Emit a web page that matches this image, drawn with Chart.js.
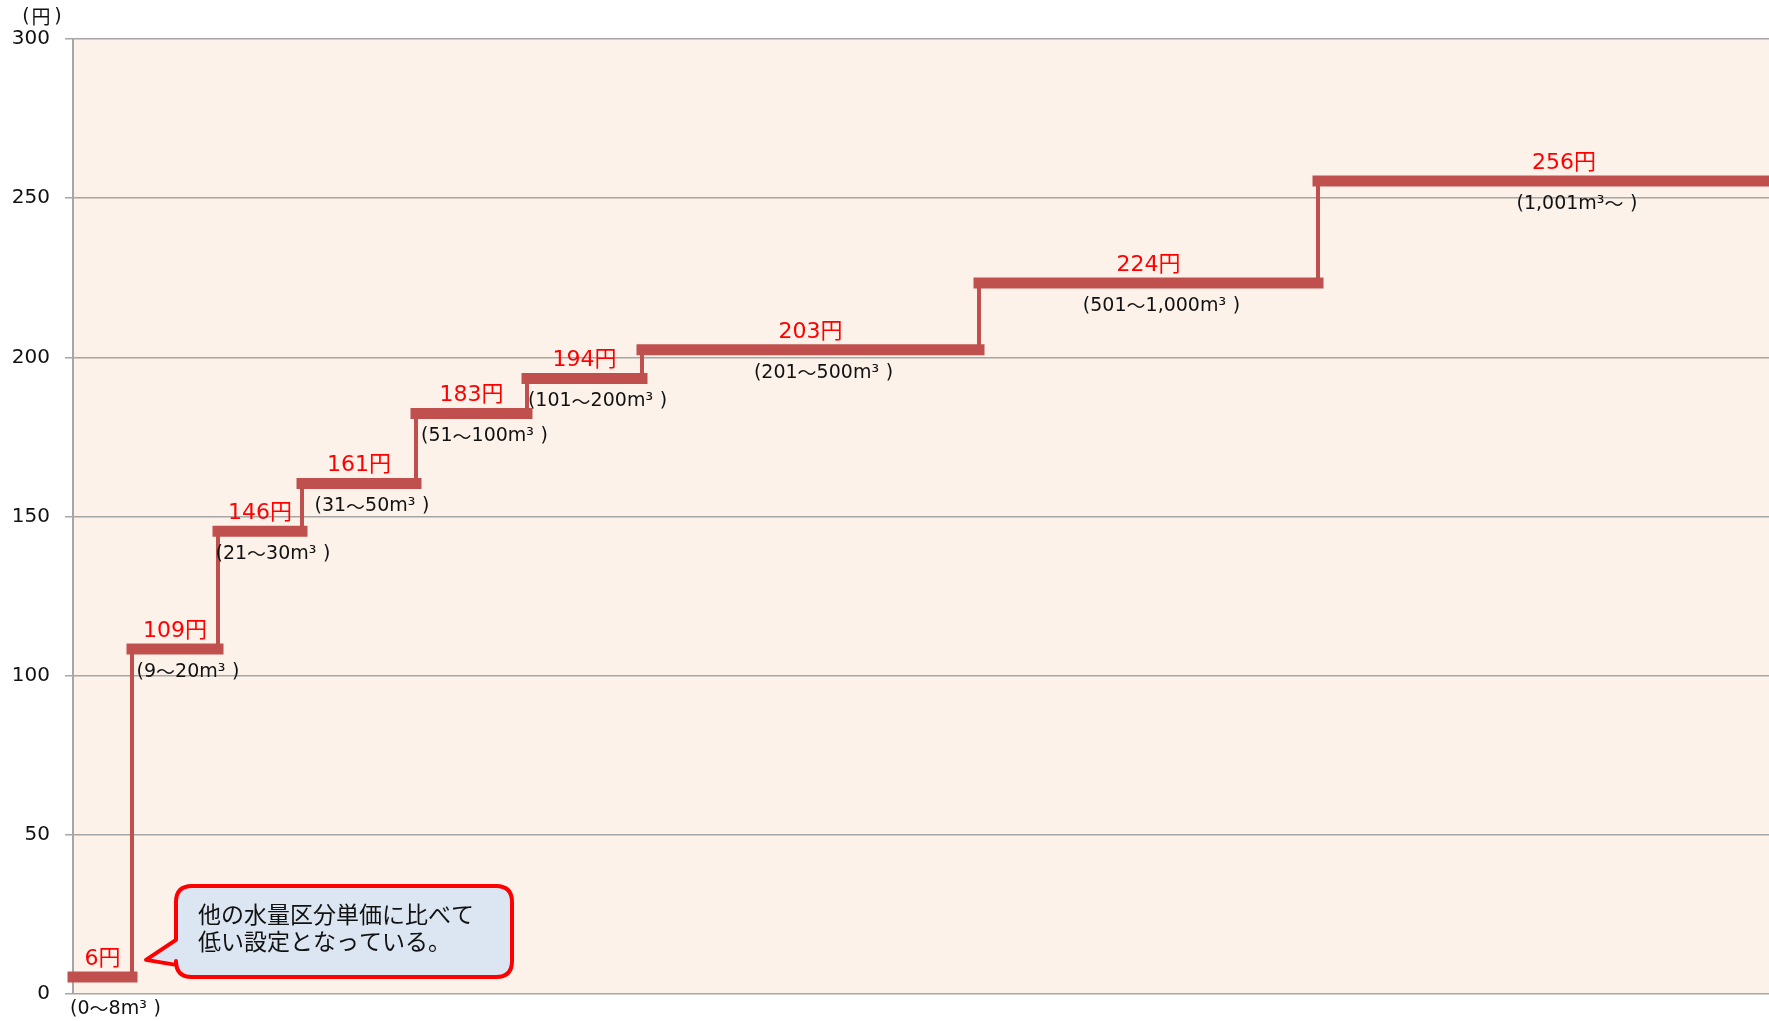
<!DOCTYPE html>
<html lang="ja">
<head>
<meta charset="utf-8">
<title>水量区分単価</title>
<script src="https://cdn.jsdelivr.net/npm/chart.js@4/dist/chart.umd.min.js"></script>
<style>
  html, body { margin: 0; padding: 0; background: #fff; overflow: hidden; }
  canvas { display: block; }
</style>
</head>
<body>
<canvas id="stepChart" width="1810" height="1021"></canvas>
<script>
// tier boundaries along the (schematic) horizontal axis
const tierEdges = [0, 59, 145, 229, 343, 454, 569, 906, 1245, 1737];
// unit price per m3 for each tier (円)
const unitPrices = [6, 109, 146, 161, 183, 194, 203, 224, 256];
const priceLabels = ["6円", "109円", "146円", "161円", "183円", "194円", "203円", "224円", "256円"];
const volumeLabels = [
  "（0〜8m³）", "（9〜20m³）", "（21〜30m³）", "（31〜50m³）", "（51〜100m³）",
  "（101〜200m³）", "（201〜500m³）", "（501〜1,000m³）", "（1,001m³〜）"
];
const yTicks = [0, 50, 100, 150, 200, 250, 300];
const noteLines = ["他の水量区分単価に比べて", "低い設定となっている。"];

const LINE = "#C0504D";
const GRID = "#a6a6a6";
const LATIN = '"DejaVu Sans", sans-serif';
const FONT = '"DejaVu Sans", "Noto Sans CJK JP", sans-serif';
const CJK = '"Noto Sans CJK JP", "DejaVu Sans", sans-serif';
const SHIFT = 2; // the original draws its lines a hair below the gridlines

// horizontal treads and vertical risers, split by gaps
const treads = [];
unitPrices.forEach((v, i) => {
  treads.push({ x: tierEdges[i], y: v }, { x: tierEdges[i + 1], y: v }, { x: tierEdges[i + 1], y: null });
});
const risers = [];
for (let i = 1; i < unitPrices.length; i++) {
  risers.push({ x: tierEdges[i], y: unitPrices[i - 1] }, { x: tierEdges[i], y: unitPrices[i] }, { x: tierEdges[i], y: null });
}

// draw a volume label glyph by glyph so the full-width brackets keep their room
function drawVolume(ctx, text, cx, y, size) {
  const parts = [];
  for (const ch of text) {
    if (ch === "（") parts.push({ s: "(", f: LATIN, pre: 0 });
    else if (ch === "）") parts.push({ s: ")", f: LATIN, pre: size * 0.35 });
    else if (ch === "〜") parts.push({ s: ch, f: CJK, pre: 0 });
    else parts.push({ s: ch, f: LATIN, pre: 0 });
  }
  let total = 0;
  parts.forEach(p => {
    ctx.font = size + "px " + p.f;
    p.w = ctx.measureText(p.s).width;
    total += p.pre + p.w;
  });
  let x = cx - total / 2;
  ctx.textAlign = "left";
  parts.forEach(p => {
    ctx.font = size + "px " + p.f;
    x += p.pre;
    ctx.fillText(p.s, x, y);
    x += p.w;
  });
}

const plotBackground = {
  id: "plotBackground",
  beforeDraw(chart) {
    const { ctx, chartArea: a } = chart;
    ctx.save();
    ctx.fillStyle = "#FCF2EA";
    ctx.fillRect(a.left, a.top, a.right - a.left, a.bottom - a.top);
    ctx.restore();
  }
};

const lineShift = {
  id: "lineShift",
  beforeDatasetsDraw(chart) {
    chart.ctx.save();
    chart.ctx.translate(0, SHIFT);
  },
  afterDatasetsDraw(chart) {
    chart.ctx.restore();
  }
};

function roundRect(ctx, x, y, w, h, r) {
  ctx.moveTo(x + r, y);
  ctx.lineTo(x + w - r, y);
  ctx.quadraticCurveTo(x + w, y, x + w, y + r);
  ctx.lineTo(x + w, y + h - r);
  ctx.quadraticCurveTo(x + w, y + h, x + w - r, y + h);
  ctx.lineTo(x + r, y + h);
  ctx.quadraticCurveTo(x, y + h, x, y + h - r);
}

const annotations = {
  id: "annotations",
  afterDatasetsDraw(chart) {
    const { ctx, chartArea: area } = chart;
    const xs = chart.scales.x, ys = chart.scales.y;
    ctx.save();
    ctx.textBaseline = "middle";

    unitPrices.forEach((v, i) => {
      const cx = (xs.getPixelForValue(tierEdges[i]) + xs.getPixelForValue(tierEdges[i + 1])) / 2;
      const py = ys.getPixelForValue(v) + SHIFT;
      ctx.fillStyle = "#ff0000";
      ctx.textAlign = "center";
      ctx.font = "22px " + FONT;
      ctx.fillText(priceLabels[i], cx, py - 18);
      ctx.fillStyle = "#111";
      const ly = i === 0 ? area.bottom + 15 : py + 23;
      drawVolume(ctx, volumeLabels[i], cx + 13, ly, 19);
    });

    // unit label
    ctx.fillStyle = "#111";
    ctx.textAlign = "center";
    ctx.font = "19px " + LATIN;
    ctx.fillText("(", 26, 17);
    ctx.fillText(")", 58, 17);
    ctx.font = "19px " + CJK;
    ctx.fillText("円", 41, 17);

    // callout for the first tier
    const tipX = xs.getPixelForValue(tierEdges[1]) + 14;
    const tipY = ys.getPixelForValue(unitPrices[0]) - 15;
    const bx = tipX + 30, by = tipY - 74, bw = 336, bh = 91, r = 16;
    ctx.beginPath();
    roundRect(ctx, bx, by, bw, bh, r);
    ctx.lineTo(bx, tipY + 5);
    ctx.lineTo(tipX, tipY);
    ctx.lineTo(bx, tipY - 20);
    ctx.lineTo(bx, by + r);
    ctx.quadraticCurveTo(bx, by, bx + r, by);
    ctx.closePath();
    ctx.fillStyle = "#DCE6F2";
    ctx.fill();
    ctx.lineWidth = 4;
    ctx.lineJoin = "round";
    ctx.strokeStyle = "#ff0000";
    ctx.stroke();

    ctx.fillStyle = "#111";
    ctx.font = "23px " + CJK;
    ctx.textAlign = "left";
    ctx.fillText(noteLines[0], bx + 22, by + 28);
    ctx.fillText(noteLines[1], bx + 22, by + 55);
    ctx.restore();
  }
};

new Chart(document.getElementById("stepChart"), {
  type: "line",
  data: {
    datasets: [
      {
        label: "risers",
        data: risers,
        borderColor: LINE,
        borderWidth: 4,
        borderCapStyle: "butt",
        pointRadius: 0,
        spanGaps: false,
        clip: false
      },
      {
        label: "treads",
        data: treads,
        borderColor: LINE,
        borderWidth: 11,
        borderCapStyle: "square",
        pointRadius: 0,
        spanGaps: false,
        clip: false
      }
    ]
  },
  options: {
    responsive: false,
    devicePixelRatio: 1,
    animation: false,
    layout: { padding: { top: 39, bottom: 26, left: 0, right: 0 } },
    plugins: { legend: { display: false }, tooltip: { enabled: false } },
    scales: {
      x: { type: "linear", min: tierEdges[0], max: tierEdges[tierEdges.length - 1], display: false },
      y: {
        min: yTicks[0],
        max: yTicks[yTicks.length - 1],
        afterFit(scale) { scale.width = 73; },
        afterBuildTicks(scale) { scale.ticks = yTicks.map(v => ({ value: v })); },
        ticks: { color: "#111", font: { family: FONT, size: 20 }, padding: 15 },
        grid: { color: GRID, lineWidth: 1.5, tickLength: 8 },
        border: { color: GRID, width: 2 }
      }
    }
  },
  plugins: [plotBackground, lineShift, annotations]
});
</script>
</body>
</html>
